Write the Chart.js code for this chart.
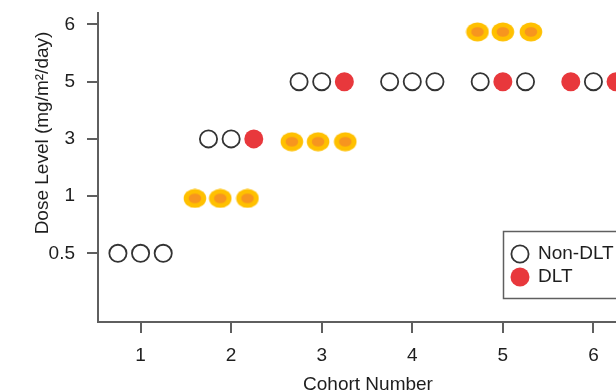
<!DOCTYPE html>
<html>
<head>
<meta charset="utf-8">
<script src="https://cdn.jsdelivr.net/npm/chart.js@4.4.1/dist/chart.umd.min.js"></script>
<style>
  html, body { margin: 0; padding: 0; background: #fff; }
  body { width: 616px; height: 392px; overflow: hidden; }
  #wrap { width: 640px; height: 392px; }
</style>
</head>
<body>
<div id="wrap"><canvas id="chart" width="640" height="392"></canvas></div>
<script>
// ---- data ----
const doseLabels = ['0.5', '1', '3', '5', '6'];
const cohorts = [1, 2, 3, 4, 5, 6];
const cohortDose = ['0.5', '3', '5', '5', '5', '5'];
const patientOffset = [-0.25, 0, 0.25];
// 1 = DLT, 0 = no DLT, one row per cohort
const dltFlags = [
  [0, 0, 0],
  [0, 0, 1],
  [0, 0, 1],
  [0, 0, 0],
  [0, 1, 0],
  [1, 0, 1]
];
// highlighted (orange) markers, in cohort / dose-level units
const markX = [1.60, 1.88, 2.18, 2.67, 2.96, 3.26, 4.72, 5.00, 5.31];
const markY = [1.96, 1.96, 1.96, 2.95, 2.95, 2.95, 4.87, 4.87, 4.87];

// ---- styles ----
const FONT = '"Liberation Sans", Arial, sans-serif';
const TEXT = '#1e1e1e';
const AXIS = '#5f5f5f';
const RED = '#e8383c';
const RING = '#333333';

// build point lists
const nonDlt = [];
const dlt = [];
cohorts.forEach((c, i) => {
  const y = doseLabels.indexOf(cohortDose[i]) + 1;
  dltFlags[i].forEach((f, j) => {
    const p = { x: c + patientOffset[j], y: y };
    if (f) dlt.push(p); else nonDlt.push(p);
  });
});
const marks = markX.map((x, i) => ({ x: x, y: markY[i] }));

// ellipse marker image (yellow ring, orange centre)
function ellipseMarker() {
  const c = document.createElement('canvas');
  c.width = 24; c.height = 20;
  const g = c.getContext('2d');
  g.fillStyle = '#ffc000';
  g.beginPath();
  g.ellipse(12, 10, 11.3, 9.4, 0, 0, Math.PI * 2);
  g.fill();
  g.fillStyle = '#f7951f';
  g.beginPath();
  g.ellipse(12, 10, 6.3, 4.8, 0, 0, Math.PI * 2);
  g.fill();
  return c;
}

// titles + legend box drawn on top
const decorations = {
  id: 'decorations',
  afterDraw(chart) {
    const ctx = chart.ctx;
    ctx.save();
    ctx.fillStyle = TEXT;
    ctx.font = '19px ' + FONT;

    // x title
    ctx.textAlign = 'center';
    ctx.textBaseline = 'alphabetic';
    ctx.fillText('Cohort Number', 368, 390);

    // y title
    ctx.save();
    ctx.translate(48, 133);
    ctx.rotate(-Math.PI / 2);
    ctx.fillText('Dose Level (mg/m\u00B2/day)', 0, 0);
    ctx.restore();

    // legend
    ctx.strokeStyle = AXIS;
    ctx.lineWidth = 1.5;
    ctx.strokeRect(503.5, 231.5, 124, 67);

    ctx.beginPath();
    ctx.arc(520, 254, 8.6, 0, Math.PI * 2);
    ctx.strokeStyle = RING;
    ctx.lineWidth = 1.8;
    ctx.stroke();

    ctx.beginPath();
    ctx.arc(520, 277, 9.5, 0, Math.PI * 2);
    ctx.fillStyle = RED;
    ctx.fill();

    ctx.fillStyle = TEXT;
    ctx.textAlign = 'left';
    ctx.textBaseline = 'middle';
    ctx.fillText('Non-DLT', 538, 254);
    ctx.fillText('DLT', 538, 277);
    ctx.restore();
  }
};

new Chart(document.getElementById('chart'), {
  type: 'scatter',
  data: {
    datasets: [
      {
        label: 'Highlight',
        data: marks,
        pointStyle: ellipseMarker(),
        pointRadius: 10
      },
      {
        label: 'Non-DLT',
        data: nonDlt,
        pointStyle: 'circle',
        pointRadius: 8.6,
        pointBackgroundColor: 'rgba(255,255,255,0)',
        pointBorderColor: RING,
        pointBorderWidth: 1.8
      },
      {
        label: 'DLT',
        data: dlt,
        pointStyle: 'circle',
        pointRadius: 9.5,
        pointBackgroundColor: RED,
        pointBorderColor: RED,
        pointBorderWidth: 0
      }
    ]
  },
  options: {
    responsive: false,
    animation: false,
    layout: { autoPadding: false, padding: { left: 0, top: 13, right: 4, bottom: 0 } },
    plugins: {
      legend: { display: false },
      tooltip: { enabled: false }
    },
    scales: {
      x: {
        type: 'linear',
        min: 0.53,
        max: 6.47,
        afterBuildTicks: (s) => { s.ticks = cohorts.map(v => ({ value: v })); },
        afterFit: (s) => { s.height = 70; s.paddingLeft = 0; s.paddingRight = 0; },
        border: { color: AXIS, width: 2 },
        grid: { drawOnChartArea: false, drawTicks: true, tickLength: 11, color: AXIS, lineWidth: 2 },
        ticks: { color: TEXT, font: { family: FONT, size: 19 }, padding: 11 }
      },
      y: {
        type: 'linear',
        min: -0.2,
        max: 5.2,
        afterBuildTicks: (s) => { s.ticks = doseLabels.map((_, i) => ({ value: i + 1 })); },
        afterFit: (s) => { s.width = 98; s.paddingTop = 0; s.paddingBottom = 0; },
        border: { color: AXIS, width: 2 },
        grid: { drawOnChartArea: false, drawTicks: true, tickLength: 11, color: AXIS, lineWidth: 2 },
        ticks: {
          color: TEXT,
          font: { family: FONT, size: 19 },
          padding: 12,
          callback: (v) => doseLabels[v - 1]
        }
      }
    }
  },
  plugins: [decorations]
});
</script>
</body>
</html>
